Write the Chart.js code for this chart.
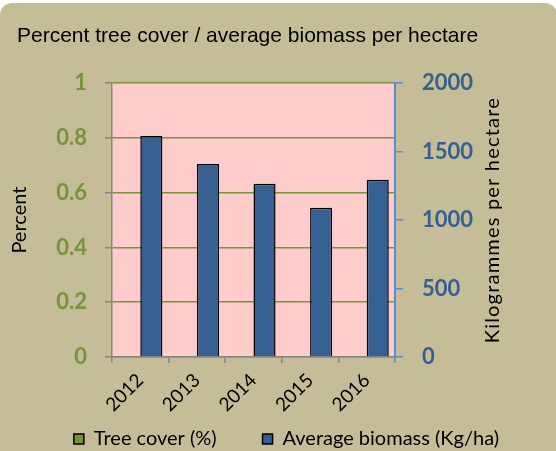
<!DOCTYPE html>
<html>
<head>
<meta charset="utf-8">
<script src="https://cdn.jsdelivr.net/npm/chart.js@4.4.1/dist/chart.umd.min.js"></script>
<style>
  html, body { margin:0; padding:0; background:#fff; }
  #frame { position:absolute; left:0; top:3px; width:557px; height:460px; background:#C4BD97; border-radius:12px; }
  #wrap { position:absolute; left:0; top:0; width:556px; height:451px; }
</style>
</head>
<body>
<div id="frame"></div>
<div id="wrap"><canvas id="chart"></canvas></div>
<script>
'use strict';

const YEARS = ['2012', '2013', '2014', '2015', '2016'];
const TREE_COVER = [null, null, null, null, null];        // no values shown in the picture
const BIOMASS = [1615, 1410, 1265, 1090, 1295];           // Kg/ha
const PCT_TICKS = [0, 0.2, 0.4, 0.6, 0.8, 1];
const KG_TICKS = [0, 500, 1000, 1500, 2000];

const GREEN = '#77933C', BLUE = '#376092', PINK = '#FFCCCC', GREY = '#868686';
const CAL = 'Lato, "Open Sans", sans-serif';

// pink plot area + right axis title (reads bottom-to-top)
const plotDeco = {
  id: 'plotDeco',
  beforeDraw(chart) {
    const { ctx, chartArea: a } = chart;
    ctx.save();
    ctx.fillStyle = PINK;
    ctx.fillRect(a.left, a.top, a.right - a.left, a.bottom - a.top);
    ctx.restore();
  },
  afterDraw(chart) {
    const { ctx, chartArea: a } = chart;
    const s = chart.scales.y1;
    ctx.save();
    ctx.translate(s.left + 98, (a.top + a.bottom) / 2);
    ctx.rotate(-Math.PI / 2);
    ctx.font = '20px ' + CAL;
    ctx.letterSpacing = '1.2px';
    ctx.fillStyle = '#000';
    ctx.textAlign = 'center';
    ctx.textBaseline = 'middle';
    ctx.fillText('Kilogrammes per hectare', 0, 0);
    ctx.restore();
  }
};

new Chart(document.getElementById('chart'), {
  type: 'bar',
  data: {
    labels: YEARS,
    datasets: [
      { label: 'Tree cover (%)', data: TREE_COVER, yAxisID: 'y',
        backgroundColor: GREEN, borderColor: '#000', borderWidth: 1.5 },
      { label: 'Average biomass (Kg/ha)', data: BIOMASS, yAxisID: 'y1',
        backgroundColor: BLUE, borderColor: '#000', borderWidth: 1.5 }
    ]
  },
  options: {
    responsive: true,
    maintainAspectRatio: false,
    animation: false,
    categoryPercentage: 0.78,
    barPercentage: 1.0,
    layout: { padding: { left: 17, right: 0, top: 0, bottom: -8 } },
    plugins: {
      title: {
        display: true, align: 'start', color: '#000',
        text: 'Percent tree cover / average biomass per hectare',
        font: { family: '"Liberation Sans", Arial, sans-serif', size: 21, weight: 'normal' },
        padding: { top: 24, bottom: 34 }
      },
      legend: {
        position: 'bottom',
        labels: {
          color: '#000', boxWidth: 10, boxHeight: 10, padding: 10,
          font: { family: CAL, size: 20 },
          generateLabels(chart) {
            const items = Chart.defaults.plugins.legend.labels.generateLabels(chart);
            items[0].text += '       ';   // wider gap between the two entries
            return items;
          }
        }
      },
      tooltip: { enabled: false }
    },
    scales: {
      x: {
        grid: { display: true, drawOnChartArea: false, color: GREY, tickLength: 6, lineWidth: 1.5 },
        border: { color: GREY, width: 1.5 },
        ticks: { color: '#000', font: { family: CAL, size: 19 }, minRotation: 45, maxRotation: 45, padding: 6 },
        afterFit(s) { s.height = 62; }
      },
      y: {
        position: 'left', min: 0, max: 1,
        afterBuildTicks(s) { s.ticks = PCT_TICKS.map(v => ({ value: v })); },
        grid: { color: GREEN, lineWidth: 1.5, tickColor: GREY, tickLength: 7 },
        border: { color: GREY, width: 1.5 },
        ticks: { color: GREEN, padding: 18, font: { family: CAL, size: 22, weight: 'bold' },
                 callback: v => String(v) },
        title: { display: true, text: 'Percent', color: '#000', padding: { top: -9, bottom: 0 },
                 font: { family: CAL, size: 20 } },
        afterFit(s) { s.width = 95; }
      },
      y1: {
        position: 'right', min: 0, max: 2000,
        afterBuildTicks(s) { s.ticks = KG_TICKS.map(v => ({ value: v })); },
        grid: { drawOnChartArea: false, color: '#558ED5', lineWidth: 1.5, tickLength: 8 },
        border: { color: '#558ED5', width: 2 },
        ticks: { color: BLUE, padding: 19, font: { family: CAL, size: 22, weight: 'bold' },
                 callback: v => String(v) },
        afterFit(s) { s.width = 161; }
      }
    }
  },
  plugins: [plotDeco]
});
</script>
</body>
</html>
